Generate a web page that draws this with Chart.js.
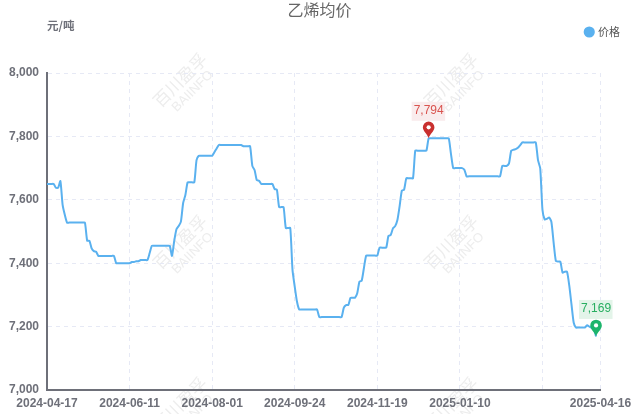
<!DOCTYPE html>
<html>
<head>
<meta charset="utf-8">
<script src="https://cdn.jsdelivr.net/npm/chart.js@4"></script>
<style>html,body{margin:0;padding:0;background:#fff}#w{width:639px;height:414px;position:relative}</style>
</head>
<body>
<div id="w"><canvas id="c" width="639" height="414"></canvas></div>
<script>
const chartTitle = '乙烯均价';
const seriesName = '价格';
const unitLabel = '元/吨';
const watermarkMain = '百川盈孚';
const watermarkSub = 'BAIINFO';
const yTicks = [7000, 7200, 7400, 7600, 7800, 8000];
const labelledDates = ['2024-04-17','2024-06-11','2024-08-01','2024-09-24','2024-11-19','2025-01-10','2025-04-16'];
const gridOnlyDates = ['2025-03-10'];
const dates = [
'2024-04-17','2024-04-18','2024-04-19','2024-04-22','2024-04-23','2024-04-24','2024-04-25','2024-04-26','2024-04-28','2024-04-29','2024-04-30',
'2024-05-06','2024-05-07','2024-05-08','2024-05-09','2024-05-10','2024-05-11','2024-05-13','2024-05-14','2024-05-15','2024-05-16','2024-05-17','2024-05-20','2024-05-21','2024-05-22','2024-05-23','2024-05-24','2024-05-27','2024-05-28','2024-05-29','2024-05-30','2024-05-31',
'2024-06-03','2024-06-04','2024-06-05','2024-06-06','2024-06-07','2024-06-11','2024-06-12','2024-06-13','2024-06-14','2024-06-17','2024-06-18','2024-06-19','2024-06-20','2024-06-21','2024-06-24','2024-06-25','2024-06-26','2024-06-27','2024-06-28',
'2024-07-01','2024-07-02','2024-07-03','2024-07-04','2024-07-05','2024-07-08','2024-07-09','2024-07-10','2024-07-11','2024-07-12','2024-07-15','2024-07-16','2024-07-17','2024-07-18','2024-07-19','2024-07-22','2024-07-23','2024-07-24','2024-07-25','2024-07-26','2024-07-29','2024-07-30','2024-07-31',
'2024-08-01','2024-08-02','2024-08-05','2024-08-06','2024-08-07','2024-08-08','2024-08-09','2024-08-12','2024-08-13','2024-08-14','2024-08-15','2024-08-16','2024-08-19','2024-08-20','2024-08-21','2024-08-22','2024-08-23','2024-08-26','2024-08-27','2024-08-28','2024-08-29','2024-08-30',
'2024-09-02','2024-09-03','2024-09-04','2024-09-05','2024-09-06','2024-09-09','2024-09-10','2024-09-11','2024-09-12','2024-09-13','2024-09-14','2024-09-18','2024-09-19','2024-09-20','2024-09-23','2024-09-24','2024-09-25','2024-09-26','2024-09-27','2024-09-29','2024-09-30',
'2024-10-08','2024-10-09','2024-10-10','2024-10-11','2024-10-12','2024-10-14','2024-10-15','2024-10-16','2024-10-17','2024-10-18','2024-10-21','2024-10-22','2024-10-23','2024-10-24','2024-10-25','2024-10-28','2024-10-29','2024-10-30','2024-10-31',
'2024-11-01','2024-11-04','2024-11-05','2024-11-06','2024-11-07','2024-11-08','2024-11-11','2024-11-12','2024-11-13','2024-11-14','2024-11-15','2024-11-18','2024-11-19','2024-11-20','2024-11-21','2024-11-22','2024-11-25','2024-11-26','2024-11-27','2024-11-28','2024-11-29',
'2024-12-02','2024-12-03','2024-12-04','2024-12-05','2024-12-06','2024-12-09','2024-12-10','2024-12-11','2024-12-12','2024-12-13','2024-12-16','2024-12-17','2024-12-18','2024-12-19','2024-12-20','2024-12-23','2024-12-24','2024-12-25','2024-12-26','2024-12-27','2024-12-30','2024-12-31',
'2025-01-02','2025-01-03','2025-01-06','2025-01-07','2025-01-08','2025-01-09','2025-01-10','2025-01-13','2025-01-14','2025-01-15','2025-01-16','2025-01-17','2025-01-20','2025-01-21','2025-01-22','2025-01-23','2025-01-24','2025-01-26','2025-01-27',
'2025-02-05','2025-02-06','2025-02-07','2025-02-08','2025-02-10','2025-02-11','2025-02-12','2025-02-13','2025-02-14','2025-02-17','2025-02-18','2025-02-19','2025-02-20','2025-02-21','2025-02-24','2025-02-25','2025-02-26','2025-02-27','2025-02-28',
'2025-03-03','2025-03-04','2025-03-05','2025-03-06','2025-03-07','2025-03-10','2025-03-11','2025-03-12','2025-03-13','2025-03-14','2025-03-17','2025-03-18','2025-03-19','2025-03-20','2025-03-21','2025-03-24','2025-03-25','2025-03-26','2025-03-27','2025-03-28','2025-03-31',
'2025-04-01','2025-04-02','2025-04-03','2025-04-07','2025-04-08','2025-04-09','2025-04-10','2025-04-11','2025-04-14','2025-04-15','2025-04-16'];
const prices = [
7650,7650,7650,7650,7638,7638,7659,7584,7552,7528,
7528,7528,7528,7528,7528,7528,7528,7528,7471,7471,7447,7438,7436,
7423,7423,7423,7423,7423,7423,7423,7423,
7400,7400,7400,7400,7400,7400,7400,
7404,7404,7406,7406,7410,7410,7410,7410,7432,
7455,7455,7455,7455,7455,7455,7455,7455,7455,
7423,7470,7507,7517,7531,7590,7615,7655,7655,7655,7655,7725,
7739,7739,7739,7739,7739,7739,7739,7750,7762,
7773,7773,7773,7773,7773,7773,7773,7773,7773,7773,7773,
7769,7769,7769,7769,7707,7694,7662,7660,
7650,7650,7650,7650,7650,7650,
7634,7632,7577,7577,7577,7511,7511,7511,7379,7326,7279,
7254,7254,7254,7254,7254,7254,7254,7254,7254,
7230,7230,7230,7230,7230,7230,7230,7230,7230,7230,7230,
7260,7268,7268,7291,7291,7291,7305,7342,7345,7385,
7424,7424,7424,7424,7424,7424,
7449,7449,7449,7449,
7486,7489,7510,7517,7536,7580,7629,7632,
7668,7668,7668,7668,
7755,7755,7755,7755,7755,7755,
7794,7794,7794,7794,7794,7794,7794,7794,7794,7794,
7745,7700,7700,7700,7700,7700,7695,
7674,7674,7674,7674,7674,7674,7674,7674,7674,7674,7674,7674,7674,7674,7674,7674,
7707,7707,7707,7715,7755,7758,7760,7764,7772,
7781,7781,7781,7781,7781,7781,7781,
7725,7699,7568,7538,7540,7544,7530,7465,7407,7405,7405,7370,7373,7373,7330,7270,7212,
7197,7197,7197,7197,7197,7204,7200,7196,7192,7169,null,null];

const AXIS = '#6E7079', GRID = '#E6E9F5', LINE = '#5AB1EF';
const TICK_FONT = {family:'"Liberation Sans", Arial, sans-serif', size:12, weight:'bold'};
const CJK = '"Noto Sans CJK SC", sans-serif';

function pin(ctx, x, yTip, color, bg, textColor, text) {
  const r = 5.8, cy = yTip - 11;
  ctx.save();
  ctx.fillStyle = color;
  ctx.beginPath();
  ctx.moveTo(x, yTip);
  ctx.bezierCurveTo(x - 1, yTip - 4, x - r, cy + 4, x - r, cy);
  ctx.arc(x, cy, r, Math.PI, 0);
  ctx.bezierCurveTo(x + r, cy + 4, x + 1, yTip - 4, x, yTip);
  ctx.closePath();
  ctx.fill();
  ctx.fillStyle = '#fff';
  ctx.beginPath();
  ctx.arc(x, cy, 2.1, 0, Math.PI * 2);
  ctx.fill();
  ctx.fillStyle = bg;
  ctx.fillRect(x - 17, yTip - 36.5, 33.5, 19);
  ctx.fillStyle = textColor;
  ctx.font = '12px "Liberation Sans", Arial, sans-serif';
  ctx.textAlign = 'center';
  ctx.textBaseline = 'middle';
  ctx.fillText(text, x, yTip - 27.5);
  ctx.restore();
}

const decor = {
  id: 'decor',
  afterLayout(chart) {
    chart.titleBlock.top = 0;
    chart.titleBlock.left = 0;
    chart.titleBlock.right = 639;
    chart.legend.top = 19.5;
  },
  beforeDraw(chart) {
    const ctx = chart.ctx;
    ctx.save();
    ctx.fillStyle = '#EDEDED';
    ctx.textAlign = 'center';
    ctx.textBaseline = 'middle';
    [180, 451].forEach(x => [80, 242, 404].forEach(y => {
      ctx.save();
      ctx.translate(x, y);
      ctx.rotate(-Math.PI / 4);
      ctx.font = '17px ' + CJK;
      ctx.fillText(watermarkMain, 0, 0);
      ctx.font = '13px "Liberation Sans", Arial, sans-serif';
      ctx.fillText(watermarkSub, 1, 17);
      ctx.restore();
    }));
    ctx.restore();
  },
  afterDatasetsDraw(chart) {
    const ctx = chart.ctx, xs = chart.scales.x, ys = chart.scales.y;
    const vals = prices.filter(v => v !== null);
    const hi = Math.max(...vals), lo = Math.min(...vals);
    const iHi = prices.indexOf(hi), iLo = prices.indexOf(lo);
    pin(ctx, xs.getPixelForValue(iHi), ys.getPixelForValue(hi), '#C9302F', '#F9ECED', '#D9534F', hi.toLocaleString('en-US'));
    pin(ctx, xs.getPixelForValue(iLo), ys.getPixelForValue(lo), '#1DB56C', '#E3F4E9', '#27AE60', lo.toLocaleString('en-US'));
    ctx.save();
    ctx.fillStyle = AXIS;
    ctx.font = 'bold 11.5px ' + CJK;
    ctx.textAlign = 'left';
    ctx.textBaseline = 'middle';
    ctx.fillText(unitLabel, 47, 26);
    ctx.restore();
  }
};

new Chart(document.getElementById('c'), {
  type: 'line',
  plugins: [decor],
  data: {
    labels: dates,
    datasets: [{
      label: seriesName,
      data: prices,
      borderColor: LINE,
      backgroundColor: LINE,
      borderWidth: 2,
      pointRadius: 0,
      tension: 0.2,
      spanGaps: false
    }]
  },
  options: {
    responsive: false,
    animation: false,
    layout: {padding: {left: 0, right: 12, top: 0, bottom: 0}},
    plugins: {
      tooltip: {enabled: false},
      title: {
        display: true,
        text: chartTitle,
        color: '#666',
        font: {family: CJK, size: 16, weight: 'normal'},
        padding: {top: 0, bottom: 0}
      },
      legend: {
        display: true,
        position: 'top',
        align: 'end',
        labels: {
          usePointStyle: true,
          pointStyle: 'circle',
          boxWidth: 6.5,
          boxHeight: 6.5,
          padding: 7,
          color: '#555',
          font: {family: CJK, size: 11}
        }
      }
    },
    scales: {
      x: {
        type: 'category',
        offset: false,
        afterFit(s) { s.height = 24; s.paddingRight = 38.5; s.paddingLeft = 47; },
        border: {color: AXIS, width: 2, dash: [4, 4]},
        grid: {color: GRID, lineWidth: 1, drawTicks: false},
        ticks: {
          autoSkip: false,
          maxRotation: 0,
          minRotation: 0,
          padding: 6,
          color: AXIS,
          font: TICK_FONT,
          callback(v) {
            const d = dates[v];
            if (labelledDates.includes(d)) return d;
            if (gridOnlyDates.includes(d)) return '';
            return null;
          }
        }
      },
      y: {
        min: 7000,
        max: 8000,
        afterFit(s) { s.width = 47; s.paddingTop = 73; },
        afterBuildTicks(s) { s.ticks = yTicks.map(v => ({value: v})); },
        border: {color: AXIS, width: 2, dash: [4, 4]},
        grid: {color: GRID, lineWidth: 1, drawTicks: false},
        ticks: {
          padding: 8,
          color: AXIS,
          font: TICK_FONT,
          callback: v => v.toLocaleString('en-US')
        }
      }
    }
  }
});
</script>
</body>
</html>
